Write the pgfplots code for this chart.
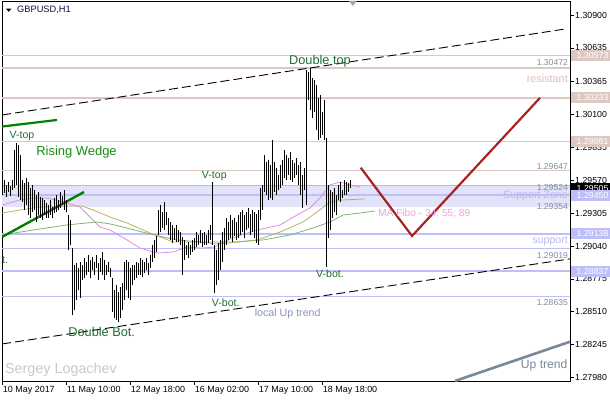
\documentclass[border=0pt]{standalone}
\usepackage{fontspec}
\setmainfont{Liberation Sans}
\usepackage{pgfplots}
\usepackage{pgfplotstable}
\pgfplotsset{compat=1.18}
\definecolor{rosy}{RGB}{222,200,194}
\definecolor{lav}{RGB}{190,190,248}
\definecolor{band}{RGB}{226,226,248}
\definecolor{pgray}{RGB}{128,140,160}
\definecolor{restxt}{RGB}{225,190,190}
\definecolor{suptxt}{RGB}{185,185,240}
\definecolor{matxt}{RGB}{235,160,225}
\definecolor{mapink}{RGB}{225,140,225}
\definecolor{maolive}{RGB}{185,180,90}
\definecolor{magreen}{RGB}{130,180,120}
\definecolor{zig}{RGB}{170,35,35}
\definecolor{uptr}{RGB}{120,136,155}
\definecolor{lut}{RGB}{135,150,185}
\definecolor{lbl}{RGB}{30,110,50}
\definecolor{rw}{RGB}{20,140,20}
\definecolor{wedge}{RGB}{0,128,0}
\definecolor{sg}{RGB}{200,200,200}
\definecolor{sym}{RGB}{10,20,60}
\newcommand\fs[1]{\fontsize{#1}{#1}\selectfont}

\pgfplotstableread{
x hi lo
0 1.29548 1.29451
1 1.29572 1.29467
2 1.29532 1.29435
3 1.29556 1.29475
4 1.29523 1.29443
5 1.29572 1.29491
6 1.29813 1.29507
7 1.29870 1.29532
8 1.29854 1.29435
9 1.29773 1.29411
10 1.29572 1.29395
11 1.29548 1.29330
12 1.29588 1.29371
13 1.29556 1.29290
14 1.29507 1.29266
15 1.29532 1.29314
16 1.29491 1.29330
17 1.29451 1.29234
18 1.29475 1.29290
19 1.29435 1.29266
20 1.29427 1.29250
21 1.29411 1.29290
22 1.29387 1.29266
23 1.29371 1.29266
24 1.29411 1.29290
25 1.29354 1.29266
26 1.29427 1.29306
27 1.29451 1.29314
28 1.29411 1.29330
29 1.29475 1.29346
30 1.29443 1.29371
31 1.29491 1.29330
32 1.29411 1.29314
33 1.29290 1.29008
34 1.29250 1.29049
35 1.29024 1.28485
36 1.28888 1.28525
37 1.28904 1.28606
38 1.28863 1.28686
39 1.28912 1.28622
40 1.28888 1.28767
41 1.28944 1.28783
42 1.28912 1.28807
43 1.28968 1.28831
44 1.28928 1.28783
45 1.28952 1.28847
46 1.28912 1.28807
47 1.28968 1.28863
48 1.28904 1.28767
49 1.28944 1.28831
50 1.28992 1.28807
51 1.28928 1.28767
52 1.28888 1.28807
53 1.28912 1.28831
54 1.28863 1.28791
55 1.28783 1.28509
56 1.28686 1.28461
57 1.28727 1.28445
58 1.28670 1.28429
59 1.28710 1.28461
60 1.28743 1.28525
61 1.28912 1.28606
62 1.28928 1.28686
63 1.28912 1.28622
64 1.28863 1.28606
65 1.28888 1.28727
66 1.28888 1.28767
67 1.28912 1.28783
68 1.28904 1.28807
69 1.28944 1.28807
70 1.28928 1.28791
71 1.28912 1.28823
72 1.28944 1.28847
73 1.28904 1.28807
74 1.28968 1.28863
75 1.29049 1.28912
76 1.29089 1.28944
77 1.29121 1.28992
78 1.29330 1.29129
79 1.29371 1.29153
80 1.29314 1.29185
81 1.29395 1.29169
82 1.29314 1.29210
83 1.29266 1.29129
84 1.29234 1.29089
85 1.29210 1.29065
86 1.29185 1.29089
87 1.29210 1.29073
88 1.29169 1.29073
89 1.29153 1.29049
90 1.29113 1.28807
91 1.29089 1.28928
92 1.29049 1.28968
93 1.29073 1.28944
94 1.29049 1.28968
95 1.29089 1.28992
96 1.29105 1.29008
97 1.29153 1.29032
98 1.29129 1.29049
99 1.29169 1.29065
100 1.29145 1.29032
101 1.29153 1.29049
102 1.29129 1.29049
103 1.29169 1.29065
104 1.29210 1.29089
105 1.29556 1.29049
106 1.29049 1.28662
107 1.29008 1.28727
108 1.29065 1.28767
109 1.29089 1.28847
110 1.29153 1.28912
111 1.29185 1.29008
112 1.29266 1.29049
113 1.29234 1.29089
114 1.29290 1.29105
115 1.29250 1.29073
116 1.29266 1.29121
117 1.29234 1.29089
118 1.29290 1.29105
119 1.29314 1.29129
120 1.29330 1.29153
121 1.29290 1.29105
122 1.29314 1.29169
123 1.29346 1.29185
124 1.29298 1.29129
125 1.29330 1.29153
126 1.29314 1.29105
127 1.29298 1.29065
128 1.29330 1.29049
129 1.29507 1.29250
130 1.29532 1.29330
131 1.29773 1.29475
132 1.29717 1.29451
133 1.29733 1.29411
134 1.29693 1.29427
135 1.29894 1.29411
136 1.29717 1.29475
137 1.29668 1.29451
138 1.29612 1.29491
139 1.29693 1.29507
140 1.29733 1.29532
141 1.29813 1.29588
142 1.29773 1.29572
143 1.29749 1.29612
144 1.29797 1.29572
145 1.29733 1.29556
146 1.29709 1.29588
147 1.29749 1.29612
148 1.29693 1.29532
149 1.29717 1.29451
150 1.29612 1.29346
151 1.29668 1.29491
152 1.30457 1.29371
153 1.30441 1.30216
154 1.30472 1.30135
155 1.30393 1.30071
156 1.30377 1.30119
157 1.30337 1.29974
158 1.30232 1.29894
159 1.30256 1.29910
160 1.30119 1.29934
161 1.30216 1.29894
162 1.29910 1.28871
163 1.29532 1.29105
164 1.29491 1.29169
165 1.29475 1.29266
166 1.29507 1.29314
167 1.29451 1.29290
168 1.29532 1.29411
169 1.29556 1.29395
170 1.29491 1.29427
171 1.29572 1.29451
172 1.29556 1.29451
173 1.29548 1.29475
174 1.29572 1.29507
}\bars

\begin{document}
\begin{tikzpicture}
\useasboundingbox (0,0) rectangle (610bp,400bp);
\begin{axis}[
  at={(2bp,19bp)}, anchor=south west,
  scale only axis, width=568bp, height=380bp,
  xmin=-0.35, xmax=283.65, ymin=1.279537, ymax=1.310127,
  axis line style={black, line width=0.8bp},
  tick align=outside, major tick length=4bp,
  tick style={black, line width=0.8bp},
  xtick pos=bottom, ytick pos=right, yticklabel pos=right,
  xtick={0,32,64,96,128,160},
  xticklabels={10 May 2017,11 May 10:00,12 May 18:00,16 May 02:00,17 May 10:00,18 May 18:00},
  ytick={1.27980,1.28245,1.28510,1.28775,1.29040,1.29305,1.29570,1.29835,1.30100,1.30365,1.30635,1.30900},
  yticklabels={1.27980,1.28245,1.28510,1.28775,1.29040,1.29305,1.29570,1.29835,1.30100,1.30365,1.30635,1.30900},
  xticklabel style={anchor=north west, inner sep=0pt, yshift=-1bp, font=\fs{9}},
  yticklabel style={anchor=west, inner sep=0pt, xshift=1bp, font=\fs{8.8}},
  clip mode=individual,
]
% support zone band
\addplot[draw=none, fill=band] coordinates {(-0.35,1.29354) (283.65,1.29354) (283.65,1.29532) (-0.35,1.29532)} -- cycle;
% horizontal levels
\addplot[rosy, line width=1.6bp] coordinates {(-0.35,1.30573) (283.65,1.30573)};
\addplot[rosy, line width=1.6bp] coordinates {(-0.35,1.30472) (283.65,1.30472)};
\addplot[rosy, line width=1.6bp] coordinates {(-0.35,1.30233) (283.65,1.30233)};
\addplot[rosy, line width=1.6bp] coordinates {(-0.35,1.29881) (283.65,1.29881)};
\addplot[rosy, line width=1.6bp] coordinates {(-0.35,1.29647) (283.65,1.29647)};
\addplot[black!25, line width=0.9bp] coordinates {(-0.35,1.29524) (283.65,1.29524)};
\addplot[lav, line width=1.6bp] coordinates {(-0.35,1.29450) (283.65,1.29450)};
\addplot[lav, line width=1.6bp] coordinates {(-0.35,1.29138) (283.65,1.29138)};
\addplot[lav, line width=1.6bp] coordinates {(-0.35,1.29019) (283.65,1.29019)};
\addplot[lav, line width=1.6bp] coordinates {(-0.35,1.28837) (283.65,1.28837)};
\addplot[lav, line width=1.6bp] coordinates {(-0.35,1.28635) (283.65,1.28635)};
% moving averages
\addplot[mapink, line width=0.8bp] coordinates {(-0.35,1.29370) (8.65,1.29411) (15.15,1.29427) (22.15,1.29427) (32.15,1.29387) (38.65,1.29354) (43.65,1.29274) (48.65,1.29193) (53.65,1.29169) (62.15,1.29089) (68.65,1.29024) (77.15,1.28984) (85.15,1.28992) (92.15,1.29032) (99.65,1.29024) (106.15,1.29032) (109.65,1.29065) (116.15,1.29113) (127.15,1.29169) (138.65,1.29210) (147.15,1.29290) (153.65,1.29346) (158.65,1.29427) (163.65,1.29532) (168.65,1.29556) (173.65,1.29532) (178.65,1.29515)};
\addplot[maolive, line width=0.8bp] coordinates {(-0.35,1.29306) (8.65,1.29330) (18.65,1.29354) (32.15,1.29362) (39.65,1.29362) (45.15,1.29330) (53.65,1.29274) (62.15,1.29226) (73.65,1.29145) (85.15,1.29073) (98.65,1.29073) (106.15,1.29057) (113.65,1.29065) (127.15,1.29089) (138.65,1.29153) (150.15,1.29234) (157.15,1.29314) (163.65,1.29395) (170.15,1.29411) (181.15,1.29419)};
\addplot[magreen, line width=0.8bp] coordinates {(-0.35,1.29129) (15.15,1.29169) (32.15,1.29210) (47.15,1.29234) (53.65,1.29218) (62.15,1.29185) (73.65,1.29137) (87.15,1.29089) (98.65,1.29073) (116.15,1.29073) (130.15,1.29089) (143.65,1.29129) (155.15,1.29185) (163.65,1.29234) (170.15,1.29290) (178.65,1.29306) (186.15,1.29322)};
% trend lines
\addplot[black, line width=0.9bp, dash pattern=on 9bp off 4bp] coordinates {(-0.35,1.30095) (281.5,1.30788)};
\addplot[black, line width=0.9bp, dash pattern=on 9bp off 4bp] coordinates {(-0.35,1.28252) (283.65,1.28937)};
\addplot[wedge, line width=2.2bp] coordinates {(-0.35,1.30002) (27.15,1.30055)};
\addplot[wedge, line width=2.4bp] coordinates {(-0.35,1.29113) (40.65,1.29475)};
\addplot[uptr, line width=2.6bp] coordinates {(226.15,1.27954) (283.65,1.28270)};
\addplot[zig, line width=2.2bp] coordinates {(179,1.29671) (204.65,1.29121) (268.65,1.30233)};
% price bars (high-low)
\addplot[draw=none, mark=none, error bars/.cd, y dir=plus, y explicit, error mark=none,
  error bar style={draw=black, line width=1bp}]
  table[x=x, y=lo, y error plus expr=\thisrow{hi}-\thisrow{lo}] {\bars};
% annotations
\node[text=lbl, font=\fs{10.6}] at (axis cs:9.65,1.29926) {V-top};
\node[text=rw, font=\fs{13}] at (axis cs:36.9,1.29799) {Rising Wedge};
\node[text=lbl, font=\fs{12.8}] at (axis cs:158.65,1.30530) {Double top};
\node[text=lbl, font=\fs{10.6}] at (axis cs:105.8,1.29604) {V-top};
\node[text=lbl, font=\fs{10.6}] at (axis cs:111.5,1.28584) {V-bot.};
\node[text=lbl, font=\fs{10.6}] at (axis cs:163.65,1.28815) {V-bot.};
\node[text=lbl, font=\fs{12.8}] at (axis cs:49.5,1.28350) {Double Bot.};
\node[text=lbl, font=\fs{10.6}, anchor=west, inner sep=0pt] at (axis cs:-0.35,1.28927) {t.};
\node[text=lut, font=\fs{10.7}] at (axis cs:142.5,1.28493) {local Up trend};
\node[text=sg, font=\fs{14.4}] at (axis cs:29.15,1.28042) {Sergey Logachev};
\node[text=uptr, font=\fs{12.2}, anchor=east, inner sep=0pt] at (axis cs:282.5,1.28076) {Up trend};
\node[text=restxt, font=\fs{10.9}, anchor=east, inner sep=0pt] at (axis cs:282.65,1.30385) {resistant};
\node[text=suptxt, font=\fs{10.7}, anchor=east, inner sep=0pt] at (axis cs:282.65,1.29443) {Support Zone};
\node[text=suptxt, font=\fs{10.6}, anchor=east, inner sep=0pt] at (axis cs:282.65,1.29080) {support};
\node[text=matxt, font=\fs{10.2}, anchor=west, inner sep=0pt] at (axis cs:187.65,1.29303) {MA Fibo - 34; 55; 89};
\node[text=pgray, font=\fs{8.6}, anchor=east, inner sep=0pt] at (axis cs:282.65,1.30516) {1.30472};
\node[text=pgray, font=\fs{8.6}, anchor=east, inner sep=0pt] at (axis cs:282.65,1.29684) {1.29647};
\node[text=pgray, font=\fs{8.6}, anchor=east, inner sep=0pt] at (axis cs:282.65,1.29513) {1.29524};
\node[text=pgray, font=\fs{8.6}, anchor=east, inner sep=0pt] at (axis cs:282.65,1.29357) {1.29354};
\node[text=pgray, font=\fs{8.6}, anchor=east, inner sep=0pt] at (axis cs:282.65,1.28962) {1.29019};
\node[text=pgray, font=\fs{8.6}, anchor=east, inner sep=0pt] at (axis cs:282.65,1.28587) {1.28635};
\coordinate (b1) at (axis cs:283.65,1.30573);
\coordinate (b2) at (axis cs:283.65,1.30233);
\coordinate (b3) at (axis cs:283.65,1.29881);
\coordinate (b4) at (axis cs:283.65,1.29505);
\coordinate (b5) at (axis cs:283.65,1.29450);
\coordinate (b6) at (axis cs:283.65,1.29138);
\coordinate (b7) at (axis cs:283.65,1.28837);
\end{axis}
\tikzset{pbox/.style={anchor=west, xshift=1bp, text=white, font=\fs{8.8}, inner xsep=5.5bp, inner ysep=0pt, minimum height=11bp, minimum width=40bp}}
\node[pbox, fill=rosy] at (b1) {1.30573};
\node[pbox, fill=rosy] at (b2) {1.30233};
\node[pbox, fill=rosy] at (b3) {1.29881};
\node[pbox, fill=black] at (b4) {1.29505};
\node[pbox, fill=lav] at (b5) {1.29450};
\node[pbox, fill=lav] at (b6) {1.29138};
\node[pbox, fill=lav] at (b7) {1.28837};
\fill[black] (6bp,391.3bp) -- (11.3bp,391.3bp) -- (8.65bp,388.2bp) -- cycle;
\node[anchor=west, inner sep=0pt, text=sym, font=\fs{9.3}] at (17bp,390bp) {GBPUSD,H1};
\fill[black!35] (349bp,399bp) -- (356.7bp,399bp) -- (352.8bp,394bp) -- cycle;
\end{tikzpicture}
\end{document}
